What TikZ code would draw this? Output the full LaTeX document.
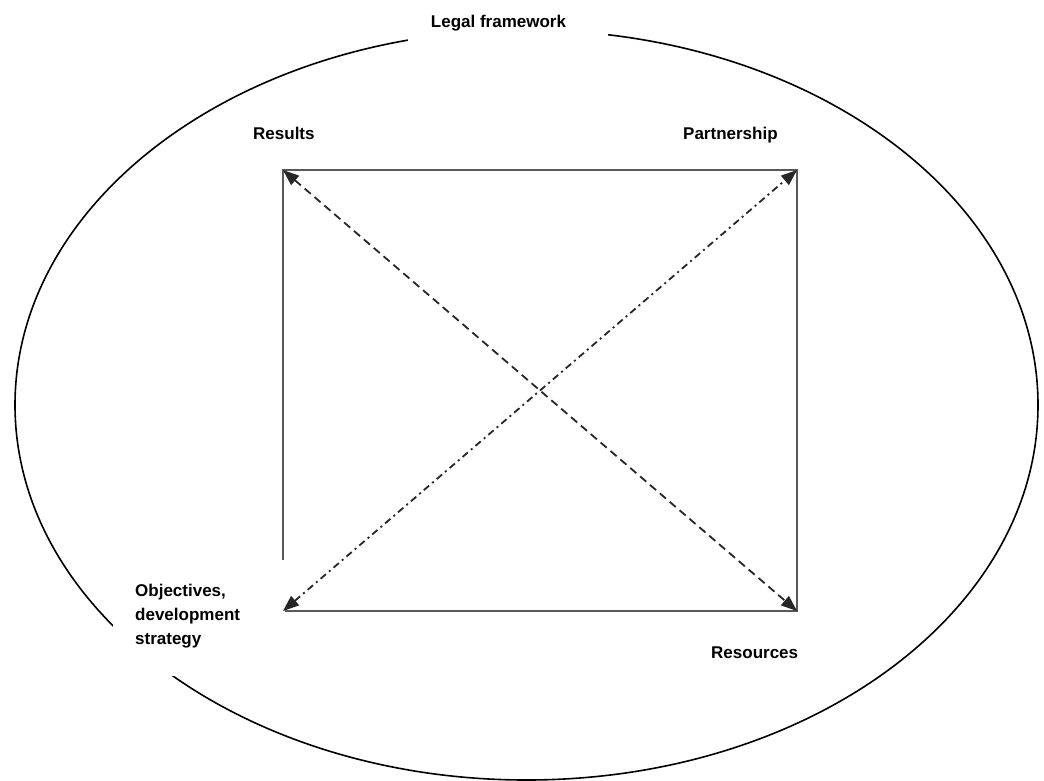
\documentclass[tikz,border=0pt]{standalone}
\usepackage{fontspec}
\setmainfont{Liberation Sans}
\usetikzlibrary{arrows.meta}
\begin{document}
\begin{tikzpicture}[x=1pt,y=-1pt,
  lbl/.style={font=\fontsize{17}{24}\selectfont\bfseries, inner sep=0pt, text=black},
  sqedge/.style={line width=1.4pt, draw=black!65},
  tip/.style={{Triangle[length=16pt,width=12pt]}-{Triangle[length=16pt,width=12pt]}},
  dashline/.style={tip, line width=1.8pt, draw=black!85, dash pattern=on 8pt off 5pt},
  dotdashline/.style={tip, line width=1.8pt, draw=black!85, dash pattern=on 7pt off 4pt on 2pt off 4pt},
  mask/.style={fill=white, draw=none}]
\useasboundingbox (0,0) rectangle (1044,780);
\fill[white] (0,0) rectangle (1044,780);
% outer frame
\draw[line width=1.6pt] (526.5,405) ellipse [x radius=511.5pt, y radius=375pt];
% corners
\coordinate (TL) at (283,170);
\coordinate (TR) at (797,170);
\coordinate (BR) at (797,611);
\coordinate (BL) at (283,611);
% square
\draw[sqedge] (BL) -- (BR) -- (TR) -- (TL) -- (BL);
% label masks
\fill[mask] (408,0) rectangle (608,46);
\fill[mask] (113,560) rectangle (285,676);
% labels
\node[lbl, anchor=base] (legal) at (498.5,27) {Legal framework};
\node[lbl, anchor=base west] (results) at (253,139) {Results};
\node[lbl, anchor=base west] (partner) at (683,139) {Partnership};
\node[lbl, anchor=base west] (resources) at (711,658) {Resources};
\node[lbl, anchor=north west, align=left] (objectives) at (135,584) {Objectives,\\development\\strategy};
% diagonals
\draw[dashline] (TL) -- (BR);
\draw[dotdashline] (BL) -- (TR);
\end{tikzpicture}
\end{document}
